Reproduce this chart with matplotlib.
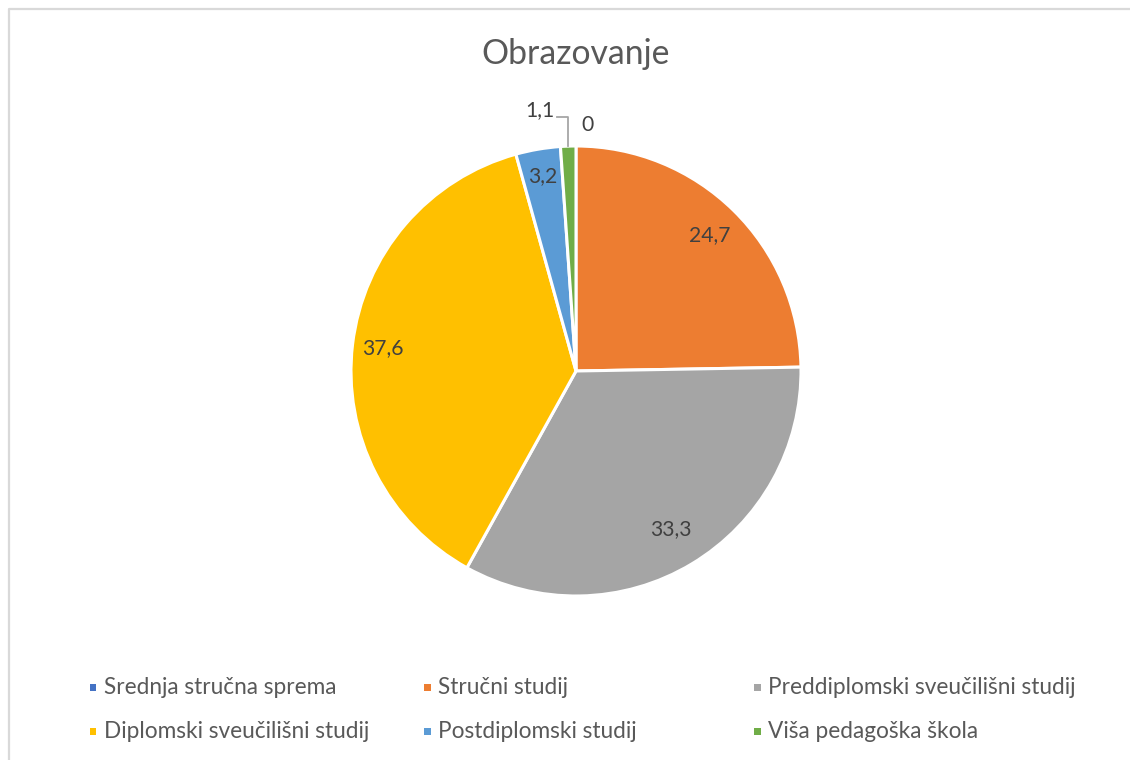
import numpy as np
import matplotlib
matplotlib.use("Agg")
from matplotlib import pyplot as plt
from matplotlib.patches import Rectangle
from matplotlib.lines import Line2D

plt.rcParams['font.family'] = ['Lato', 'DejaVu Sans']

kategorije = ["Srednja stručna sprema", "Stručni studij", "Preddiplomski sveučilišni studij",
              "Diplomski sveučilišni studij", "Postdiplomski studij", "Viša pedagoška škola"]
postotci = [0, 24.7, 33.3, 37.6, 3.2, 1.1]
oznake = ["0", "24,7", "33,3", "37,6", "3,2", "1,1"]
boje = ["#4472C4", "#ED7D31", "#A5A5A5", "#FFC000", "#5B9BD5", "#70AD47"]

W, H = 1130, 760
fig = plt.figure(figsize=(W / 100, H / 100), dpi=100)
fig.patch.set_facecolor("white")

# sivi okvir grafikona (vidljiv samo gore i lijevo)
fig.lines.append(Line2D([8.5 / W, 8.5 / W, 1.0], [0.0, 1 - 9 / H, 1 - 9 / H],
                        transform=fig.transFigure, color="#D9D9D9", lw=1.6))

# os za pitu: centar (576, 371), radijus 225 px
r_px = 225
ax = fig.add_axes([(576 - r_px) / W, (H - 371 - r_px) / H, 2 * r_px / W, 2 * r_px / H])
wedges, _ = ax.pie(postotci, colors=boje, startangle=90, counterclock=False,
                   wedgeprops=dict(edgecolor="white", linewidth=2.2))
ax.set_xlim(-1, 1)
ax.set_ylim(-1, 1)
ax.set_aspect("equal")
ax.axis("off")

vel = 15.2
txt = dict(fontsize=vel, color="#404040", ha="center", va="center")
udaljenost = {1: 0.845, 2: 0.82, 3: 0.865, 4: 0.88}
for i, w in enumerate(wedges):
    kut = np.deg2rad((w.theta1 + w.theta2) / 2)
    if i in udaljenost:
        d = udaljenost[i]
        ax.text(d * np.cos(kut), d * np.sin(kut), oznake[i], **txt)

# mali udjeli iznad pite
w = wedges[5]
kut = np.deg2rad((w.theta1 + w.theta2) / 2)
x0, y0 = np.cos(kut), np.sin(kut)
ax.plot([x0, x0, x0 - 0.05], [y0, y0 + 0.13, y0 + 0.13], color="#A6A6A6", lw=1.3,
        clip_on=False)
ax.text(x0 - 0.06, y0 + 0.13 + 0.03, oznake[5], ha="right", va="center",
        fontsize=vel, color="#404040")
w = wedges[0]
kut = np.deg2rad(w.theta1)
ax.text(np.cos(kut) + 0.05, np.sin(kut) + 0.095, oznake[0], ha="center", va="center",
        fontsize=vel, color="#404040", clip_on=False)

fig.text(576 / W, 1 - 54 / H, "Obrazovanje", ha="center", va="center",
         fontsize=24.3, color="#595959")

# legenda u tri stupca
stupci = [93, 427, 757]
redovi = [687, 731]
for i, (k, b) in enumerate(zip(kategorije, boje)):
    x = stupci[i % 3]
    y = redovi[i // 3]
    fig.patches.append(Rectangle(((x - 3.5) / W, 1 - (y + 3.5) / H), 7 / W, 7 / H,
                                 transform=fig.transFigure, facecolor=b, edgecolor="none"))
    fig.text((x + 11) / W, 1 - y / H, k, ha="left", va="center",
             fontsize=16.3, color="#595959")

fig.savefig("out.png", dpi=100)
